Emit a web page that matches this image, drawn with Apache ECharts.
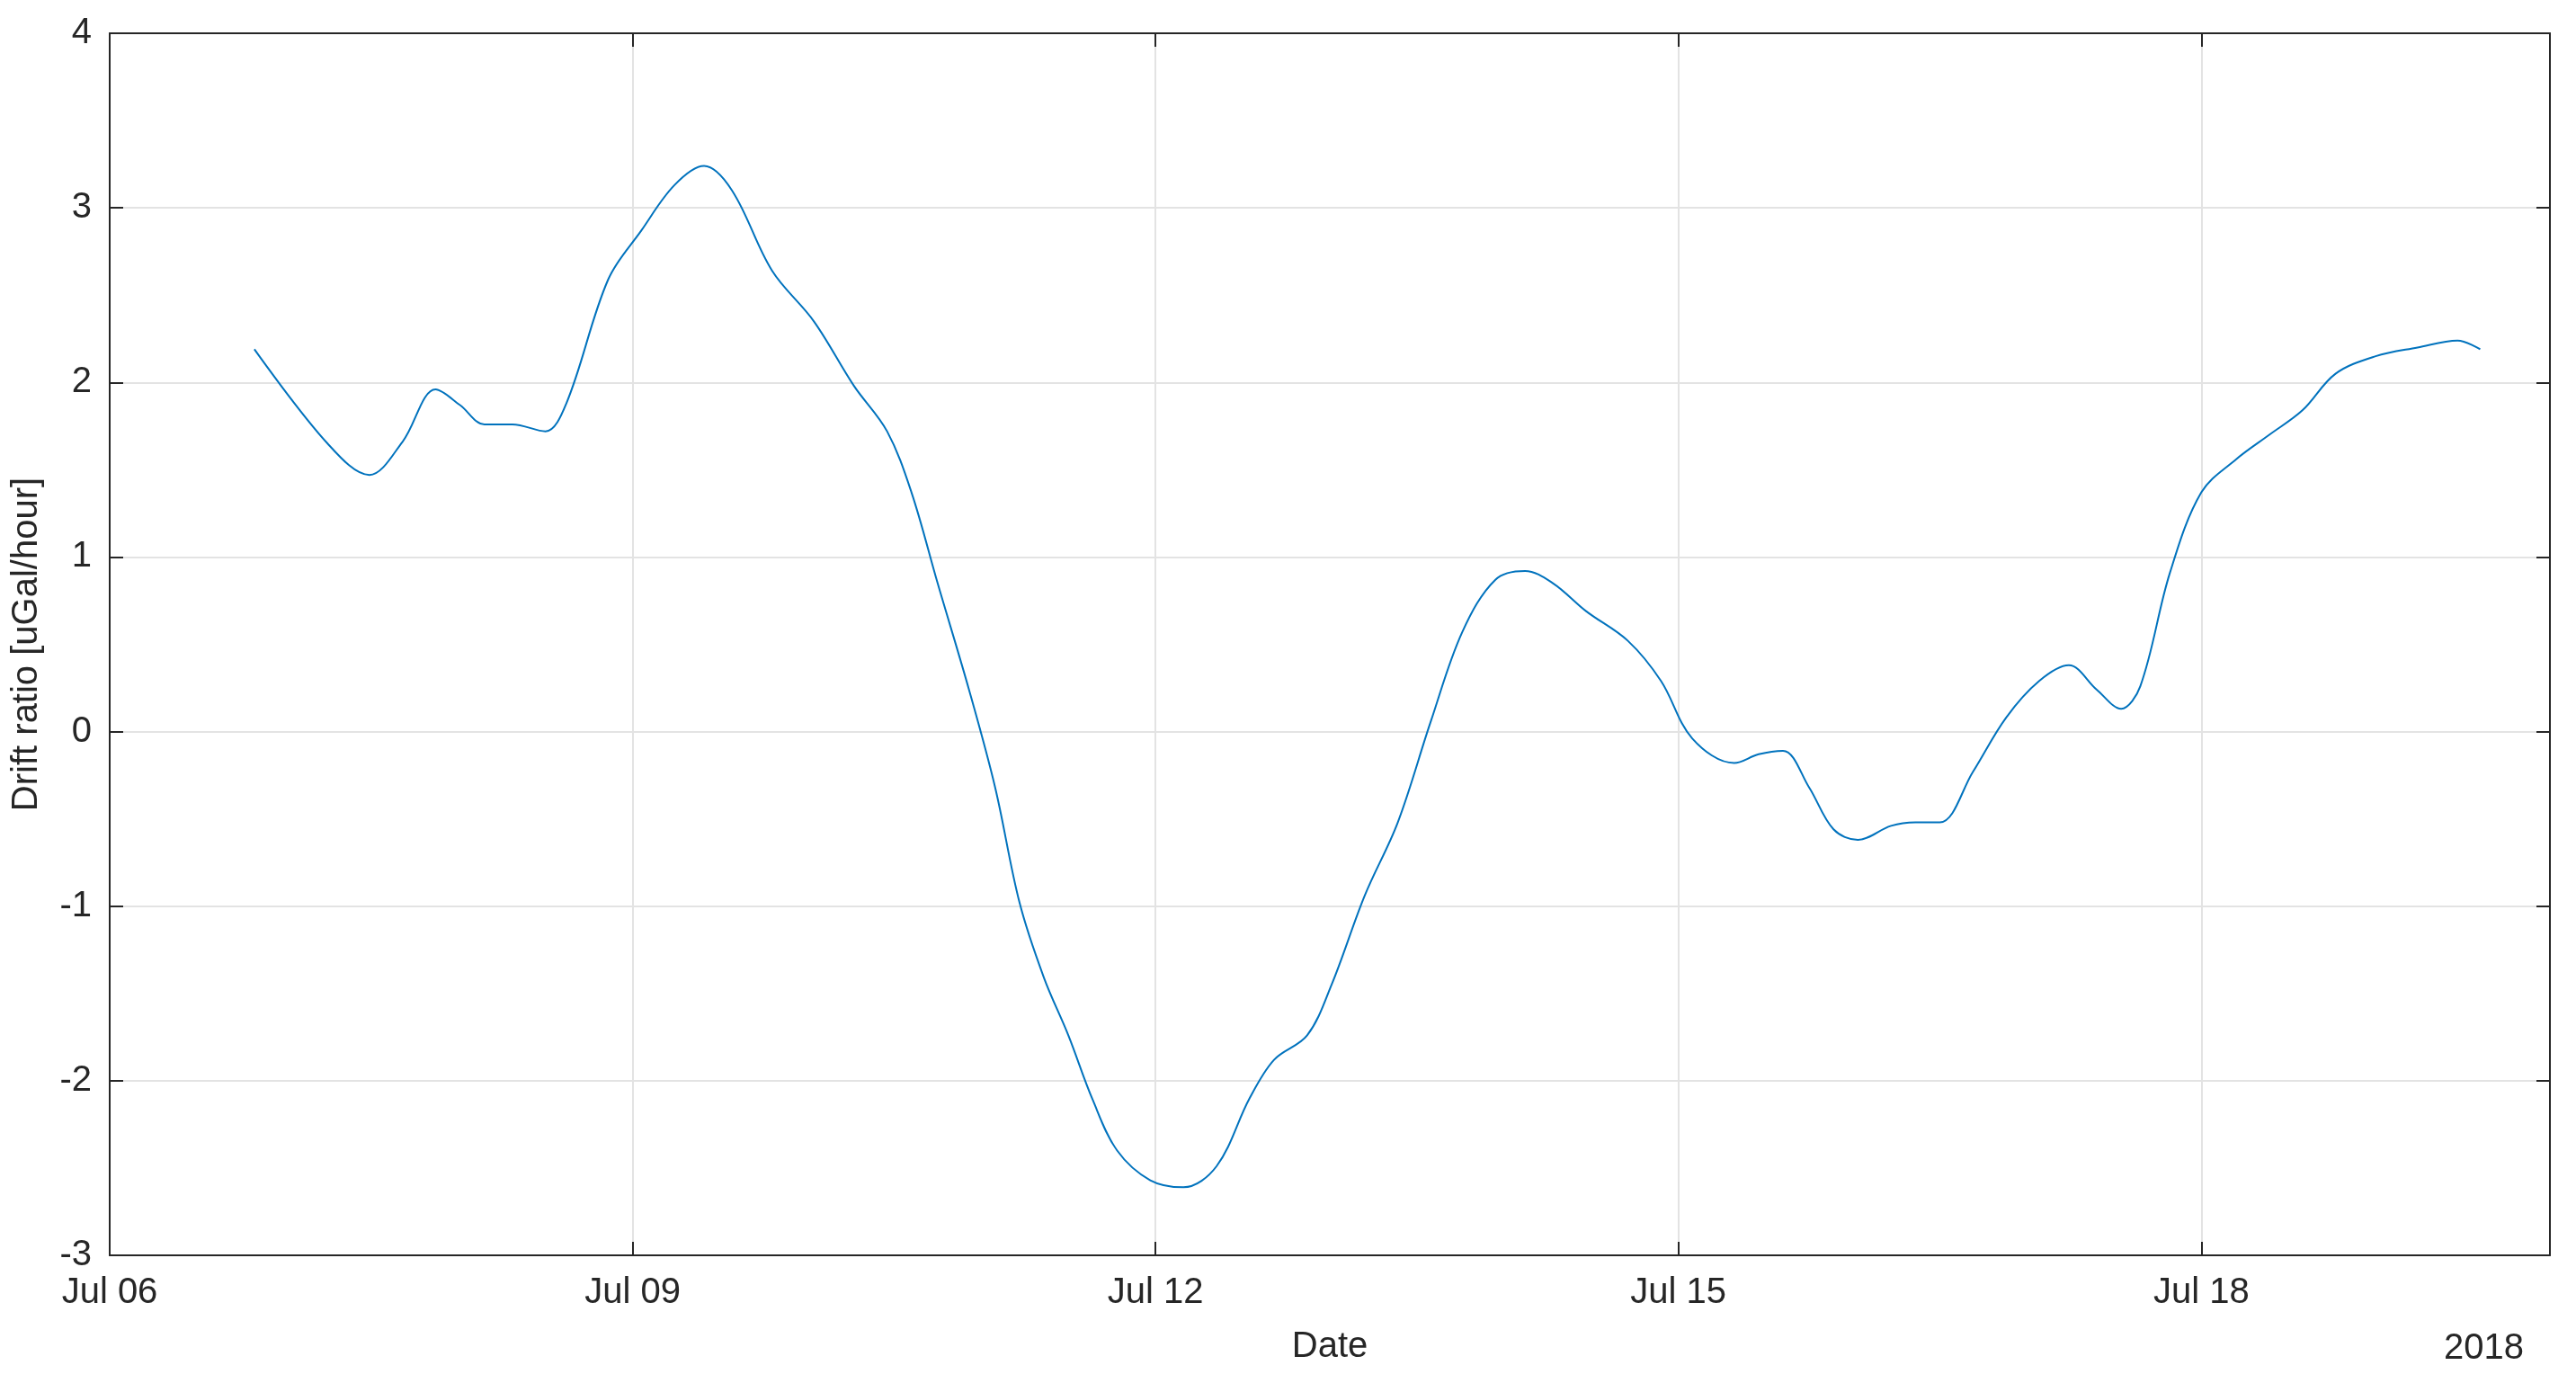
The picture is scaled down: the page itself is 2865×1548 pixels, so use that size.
<!DOCTYPE html>
<html><head><meta charset="utf-8">
<script src="https://cdn.jsdelivr.net/npm/echarts@6/dist/echarts.min.js"></script>
<style>html,body{margin:0;padding:0;background:#fff}#c{width:2865px;height:1548px}</style>
</head><body><div id="c"></div>
<script>
// days since Jul 06 2018 00:00
const dayOffsets = [0.83,1.25,1.49,1.68,1.87,2.01,2.15,2.31,2.5,2.62,2.86,3.05,3.24,3.41,3.57,3.8,4.04,4.27,4.46,4.6,4.75,4.93,5.08,5.22,5.36,5.5,5.64,5.78,5.97,6.16,6.35,6.54,6.68,6.87,7.01,7.2,7.39,7.58,7.76,7.95,8.12,8.28,8.47,8.71,8.9,9.08,9.32,9.46,9.6,9.75,9.89,10.03,10.22,10.36,10.5,10.69,10.88,11.07,11.24,11.4,11.54,11.65,11.82,12.0,12.2,12.39,12.58,12.77,13.0,13.24,13.47,13.6];
const driftRatio = [2.19,1.65,1.47,1.66,1.96,1.87,1.76,1.76,1.72,1.88,2.59,2.87,3.13,3.24,3.10,2.64,2.35,1.98,1.72,1.37,0.85,0.24,-0.32,-0.98,-1.41,-1.74,-2.11,-2.40,-2.57,-2.61,-2.49,-2.10,-1.88,-1.74,-1.45,-0.94,-0.52,0.06,0.57,0.87,0.92,0.85,0.69,0.52,0.29,-0.04,-0.18,-0.13,-0.11,-0.32,-0.56,-0.62,-0.54,-0.52,-0.52,-0.23,0.08,0.29,0.38,0.24,0.13,0.26,0.91,1.37,1.56,1.70,1.84,2.05,2.15,2.20,2.24,2.19];
const tickLabels = {0:'Jul 06',3:'Jul 09',6:'Jul 12',9:'Jul 15',12:'Jul 18'};

const font = 'Liberation Sans, Arial, sans-serif';
const line = {show: true, onZero: false, lineStyle: {color: '#262626', width: 2}};
const tick = {show: true, inside: true, length: 15, lineStyle: {color: '#262626', width: 2}};
const split = {show: true, lineStyle: {color: '#e3e3e3', width: 2}};

const chart = echarts.init(document.getElementById('c'));
chart.setOption({
  animation: false,
  grid: {left: 122, right: 29, top: 37, bottom: 152},
  xAxis: [{
    type: 'value', min: 0, max: 14, interval: 3,
    axisLine: line, axisTick: tick, splitLine: split,
    axisLabel: {color: '#262626', fontSize: 40, fontFamily: font, margin: 22,
      formatter: v => tickLabels[v] || ''},
    name: 'Date', nameLocation: 'middle', nameGap: 82,
    nameTextStyle: {color: '#262626', fontSize: 40, fontFamily: font}
  }, {
    type: 'value', position: 'top', min: 0, max: 14, interval: 3,
    axisLine: line, axisTick: tick, axisLabel: {show: false}, splitLine: {show: false}
  }],
  yAxis: [{
    type: 'value', min: -3, max: 4, interval: 1,
    axisLine: line, axisTick: tick, splitLine: split,
    axisLabel: {color: '#262626', fontSize: 40, fontFamily: font, margin: 20},
    name: 'Drift ratio [uGal/hour]', nameLocation: 'middle', nameGap: 72,
    nameTextStyle: {color: '#262626', fontSize: 40, fontFamily: font}
  }, {
    type: 'value', position: 'right', min: -3, max: 4, interval: 1,
    axisLine: line, axisTick: tick, axisLabel: {show: false}, splitLine: {show: false}
  }],
  graphic: [{type: 'text', right: 58, top: 1480,
    style: {text: '2018', fill: '#262626', font: '40px ' + font}}],
  series: [{
    type: 'line', smooth: 0.35, showSymbol: false,
    data: dayOffsets.map((d, i) => [d, driftRatio[i]]),
    lineStyle: {color: '#0072BD', width: 2}
  }]
});
</script></body></html>
